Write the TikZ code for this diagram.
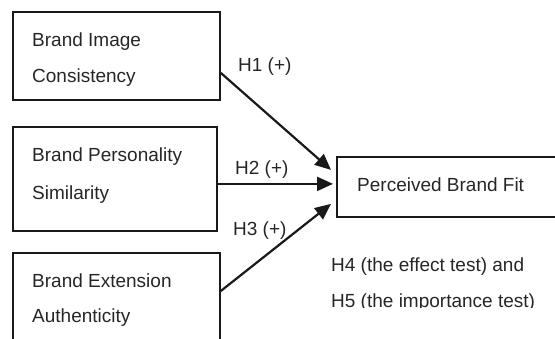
\documentclass[tikz,border=0pt]{standalone}
\usepackage{fontspec}
\setmainfont{Liberation Sans}
\usetikzlibrary{arrows.meta}
\begin{document}
\begin{tikzpicture}[x=1pt,y=-1pt,
  box/.style={draw=black!90,line width=1.8pt,minimum width=#1,inner sep=0pt,anchor=north west},
  txt/.style={anchor=base west,inner sep=0pt,text=black!85,font=\fontsize{19}{23}\selectfont},
  link/.style={draw=black!90,line width=2.2pt,-{Triangle[length=16pt,width=14pt]}}]
\useasboundingbox (0,0) rectangle (555,339);
\begin{scope}
\clip (0,0) rectangle (555,339);
\node[box=207pt,minimum height=88pt] (b1) at (12,11) {};
\node[box=204pt,minimum height=104pt] (b2) at (12,126) {};
\node[box=207pt,minimum height=100pt] (b3) at (12,252) {};
\node[box=230pt,minimum height=60pt] (b4) at (336,156) {};
\end{scope}
\node[txt] (t1a) at (32,47) {Brand Image};
\node[txt] (t1b) at (32,83) {Consistency};
\node[txt] (t2a) at (32,162) {Brand Personality};
\node[txt] (t2b) at (32,200) {Similarity};
\node[txt] (t3a) at (32,288) {Brand Extension};
\node[txt] (t3b) at (32,323) {Authenticity};
\node[txt] (t4) at (357,192) {Perceived Brand Fit};
\node[txt] (h1) at (238,72) {H1 (+)};
\node[txt] (h2) at (235,175) {H2 (+)};
\node[txt] (h3) at (233,236) {H3 (+)};
\node[txt] (h4) at (331,272) {H4 (the effect test) and};
\begin{scope}
\clip (0,0) rectangle (555,308);
\node[txt] (h5) at (331,308) {H5 (the importance test)};
\end{scope}
\draw[link] ([yshift=-17pt]b1.east) -- ([xshift=-5pt,yshift=17pt]b4.west);
\draw[link] ([yshift=-5pt]b2.east) -- ([xshift=-3pt,yshift=3pt]b4.west);
\draw[link] ([yshift=-39pt]b3.north east) -- ([xshift=-5pt,yshift=-17pt]b4.west);
\end{tikzpicture}
\end{document}
